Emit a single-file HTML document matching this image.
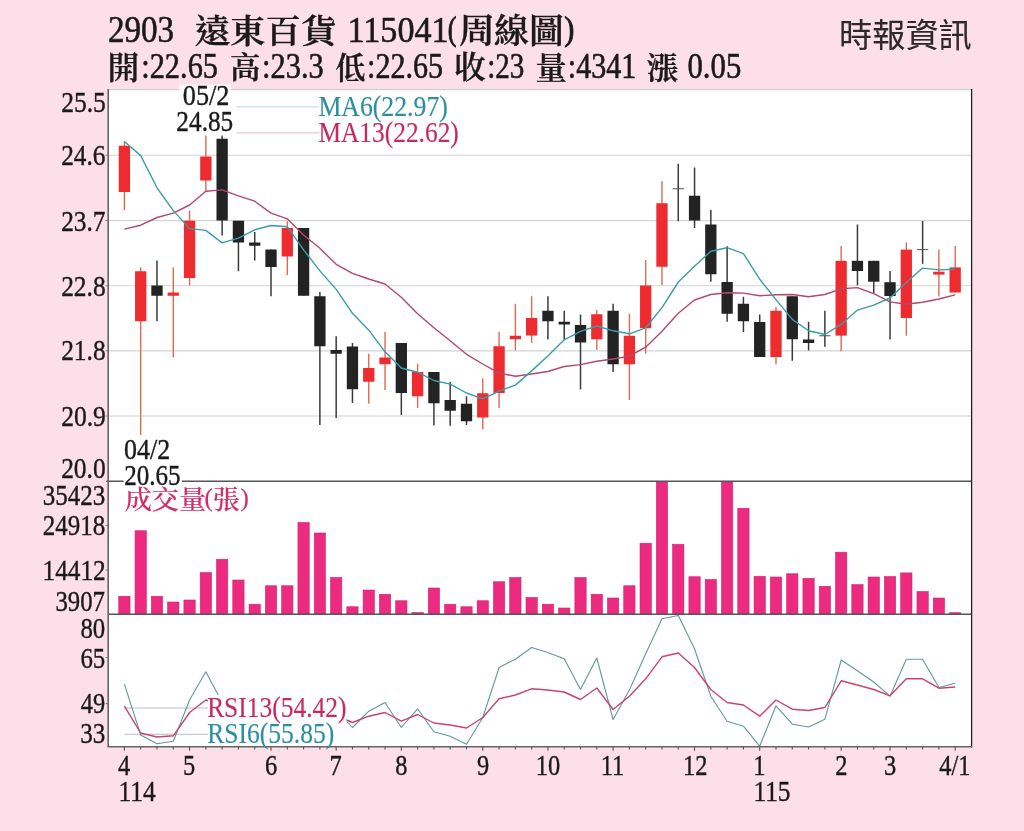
<!DOCTYPE html>
<html lang="zh-Hant"><head><meta charset="utf-8"><title>2903 遠東百貨 周線圖</title>
<style>html,body{margin:0;padding:0;background:#fddfe9;}svg{display:block}</style></head>
<body>
<svg width="1024" height="831" viewBox="0 0 1024 831">
<rect width="1024" height="831" fill="#fddfe9"/>
<rect x="108.2" y="89.6" width="863.4" height="657.2" fill="#fff"/>
<line x1="108.2" x2="971.6" y1="155.2" y2="155.2" stroke="#d2d5d4" stroke-width="1.15"/>
<line x1="108.2" x2="971.6" y1="220.6" y2="220.6" stroke="#d2d5d4" stroke-width="1.15"/>
<line x1="108.2" x2="971.6" y1="285.7" y2="285.7" stroke="#d2d5d4" stroke-width="1.15"/>
<line x1="108.2" x2="971.6" y1="350.8" y2="350.8" stroke="#d2d5d4" stroke-width="1.15"/>
<line x1="108.2" x2="971.6" y1="416.0" y2="416.0" stroke="#d2d5d4" stroke-width="1.15"/>
<line x1="108.2" x2="971.6" y1="89.6" y2="89.6" stroke="#cfcfcf" stroke-width="1.2"/>
<line x1="236.5" x2="319.5" y1="106.9" y2="106.9" stroke="#c9dfe3" stroke-width="1.2"/>
<line x1="236.5" x2="319.5" y1="132.8" y2="132.8" stroke="#e3c9d2" stroke-width="1.2"/>
<line x1="124.40" x2="124.40" y1="141.25" y2="210" stroke="#dd6a52" stroke-width="1.4"/>
<rect x="118.75" y="145.75" width="11.3" height="46.25" fill="#ee2b2e"/>
<line x1="140.69" x2="140.69" y1="267.5" y2="435" stroke="#dd6a52" stroke-width="1.4"/>
<rect x="135.04" y="271.25" width="11.3" height="50.00" fill="#ee2b2e"/>
<line x1="156.98" x2="156.98" y1="260.5" y2="321.25" stroke="#3a3a3a" stroke-width="1.5"/>
<rect x="151.33" y="285.5" width="11.3" height="10.25" fill="#232323"/>
<line x1="173.27" x2="173.27" y1="267.5" y2="357.5" stroke="#dd6a52" stroke-width="1.4"/>
<rect x="167.62" y="292.5" width="11.3" height="3.25" fill="#ee2b2e"/>
<line x1="189.56" x2="189.56" y1="210.5" y2="285.5" stroke="#dd6a52" stroke-width="1.4"/>
<rect x="183.91" y="220.75" width="11.3" height="57.25" fill="#ee2b2e"/>
<line x1="205.85" x2="205.85" y1="135.5" y2="191.25" stroke="#dd6a52" stroke-width="1.4"/>
<rect x="200.20" y="156.5" width="11.3" height="24.00" fill="#ee2b2e"/>
<line x1="222.14" x2="222.14" y1="135.5" y2="235.5" stroke="#3a3a3a" stroke-width="1.5"/>
<rect x="216.49" y="138.75" width="11.3" height="81.75" fill="#232323"/>
<line x1="238.43" x2="238.43" y1="220.75" y2="271.25" stroke="#3a3a3a" stroke-width="1.5"/>
<rect x="232.78" y="220.75" width="11.3" height="21.75" fill="#232323"/>
<line x1="254.72" x2="254.72" y1="232" y2="260.5" stroke="#3a3a3a" stroke-width="1.5"/>
<rect x="249.07" y="242.5" width="11.3" height="3.25" fill="#232323"/>
<line x1="271.01" x2="271.01" y1="249.5" y2="296.25" stroke="#3a3a3a" stroke-width="1.5"/>
<rect x="265.36" y="249.5" width="11.3" height="17.50" fill="#232323"/>
<line x1="287.30" x2="287.30" y1="221.25" y2="275" stroke="#dd6a52" stroke-width="1.4"/>
<rect x="281.65" y="228" width="11.3" height="28.50" fill="#ee2b2e"/>
<line x1="303.59" x2="303.59" y1="228" y2="295.75" stroke="#3a3a3a" stroke-width="1.5"/>
<rect x="297.94" y="228" width="11.3" height="67.75" fill="#232323"/>
<line x1="319.88" x2="319.88" y1="292" y2="425" stroke="#3a3a3a" stroke-width="1.5"/>
<rect x="314.23" y="296.25" width="11.3" height="50.00" fill="#232323"/>
<line x1="336.17" x2="336.17" y1="336.25" y2="418" stroke="#3a3a3a" stroke-width="1.5"/>
<rect x="330.52" y="350" width="11.3" height="3.75" fill="#232323"/>
<line x1="352.46" x2="352.46" y1="343" y2="403" stroke="#3a3a3a" stroke-width="1.5"/>
<rect x="346.81" y="346.5" width="11.3" height="42.75" fill="#232323"/>
<line x1="368.75" x2="368.75" y1="353.75" y2="403.75" stroke="#dd6a52" stroke-width="1.4"/>
<rect x="363.10" y="368" width="11.3" height="13.75" fill="#ee2b2e"/>
<line x1="385.04" x2="385.04" y1="331.75" y2="390" stroke="#dd6a52" stroke-width="1.4"/>
<rect x="379.39" y="357.5" width="11.3" height="6.75" fill="#ee2b2e"/>
<line x1="401.33" x2="401.33" y1="343" y2="415" stroke="#3a3a3a" stroke-width="1.5"/>
<rect x="395.68" y="343" width="11.3" height="50.00" fill="#232323"/>
<line x1="417.62" x2="417.62" y1="363.75" y2="408" stroke="#dd6a52" stroke-width="1.4"/>
<rect x="411.97" y="372" width="11.3" height="24.25" fill="#ee2b2e"/>
<line x1="433.91" x2="433.91" y1="372" y2="425.5" stroke="#3a3a3a" stroke-width="1.5"/>
<rect x="428.26" y="372" width="11.3" height="31.25" fill="#232323"/>
<line x1="450.20" x2="450.20" y1="382" y2="425.75" stroke="#3a3a3a" stroke-width="1.5"/>
<rect x="444.55" y="400" width="11.3" height="10.75" fill="#232323"/>
<line x1="466.49" x2="466.49" y1="396.25" y2="425" stroke="#3a3a3a" stroke-width="1.5"/>
<rect x="460.84" y="403.75" width="11.3" height="17.50" fill="#232323"/>
<line x1="482.78" x2="482.78" y1="378.25" y2="429.25" stroke="#dd6a52" stroke-width="1.4"/>
<rect x="477.13" y="393.25" width="11.3" height="24.25" fill="#ee2b2e"/>
<line x1="499.07" x2="499.07" y1="331.75" y2="408" stroke="#dd6a52" stroke-width="1.4"/>
<rect x="493.42" y="346.25" width="11.3" height="46.75" fill="#ee2b2e"/>
<line x1="515.36" x2="515.36" y1="303.75" y2="350.5" stroke="#dd6a52" stroke-width="1.4"/>
<rect x="509.71" y="335.75" width="11.3" height="3.50" fill="#ee2b2e"/>
<line x1="531.65" x2="531.65" y1="296.25" y2="343" stroke="#dd6a52" stroke-width="1.4"/>
<rect x="526.00" y="318" width="11.3" height="17.50" fill="#ee2b2e"/>
<line x1="547.94" x2="547.94" y1="296.25" y2="339.5" stroke="#3a3a3a" stroke-width="1.5"/>
<rect x="542.29" y="310.75" width="11.3" height="10.50" fill="#232323"/>
<line x1="564.23" x2="564.23" y1="310.75" y2="339.25" stroke="#3a3a3a" stroke-width="1.5"/>
<rect x="558.58" y="321.75" width="11.3" height="2.75" fill="#232323"/>
<line x1="580.52" x2="580.52" y1="314.5" y2="389.5" stroke="#3a3a3a" stroke-width="1.5"/>
<rect x="574.87" y="325" width="11.3" height="17.50" fill="#232323"/>
<line x1="596.81" x2="596.81" y1="310" y2="350" stroke="#dd6a52" stroke-width="1.4"/>
<rect x="591.16" y="314.25" width="11.3" height="25.00" fill="#ee2b2e"/>
<line x1="613.10" x2="613.10" y1="303.75" y2="372" stroke="#3a3a3a" stroke-width="1.5"/>
<rect x="607.45" y="310.75" width="11.3" height="53.50" fill="#232323"/>
<line x1="629.39" x2="629.39" y1="313.75" y2="400" stroke="#dd6a52" stroke-width="1.4"/>
<rect x="623.74" y="335.75" width="11.3" height="28.50" fill="#ee2b2e"/>
<line x1="645.68" x2="645.68" y1="260" y2="353.75" stroke="#dd6a52" stroke-width="1.4"/>
<rect x="640.03" y="285.5" width="11.3" height="42.75" fill="#ee2b2e"/>
<line x1="661.97" x2="661.97" y1="181.25" y2="285" stroke="#dd6a52" stroke-width="1.4"/>
<rect x="656.32" y="203.25" width="11.3" height="63.50" fill="#ee2b2e"/>
<line x1="678.26" x2="678.26" y1="163.75" y2="221.25" stroke="#3a3a3a" stroke-width="1.5"/>
<line x1="672.61" x2="683.91" y1="188.75" y2="188.75" stroke="#555" stroke-width="1"/>
<line x1="694.55" x2="694.55" y1="167.5" y2="228" stroke="#3a3a3a" stroke-width="1.5"/>
<rect x="688.90" y="195.75" width="11.3" height="24.75" fill="#232323"/>
<line x1="710.84" x2="710.84" y1="210" y2="281.75" stroke="#3a3a3a" stroke-width="1.5"/>
<rect x="705.19" y="224.5" width="11.3" height="49.75" fill="#232323"/>
<line x1="727.13" x2="727.13" y1="246.25" y2="321.75" stroke="#3a3a3a" stroke-width="1.5"/>
<rect x="721.48" y="282" width="11.3" height="31.75" fill="#232323"/>
<line x1="743.42" x2="743.42" y1="296.75" y2="332" stroke="#3a3a3a" stroke-width="1.5"/>
<rect x="737.77" y="303.75" width="11.3" height="17.50" fill="#232323"/>
<line x1="759.71" x2="759.71" y1="314.5" y2="357" stroke="#3a3a3a" stroke-width="1.5"/>
<rect x="754.06" y="322" width="11.3" height="35.00" fill="#232323"/>
<line x1="776.00" x2="776.00" y1="307" y2="364.5" stroke="#dd6a52" stroke-width="1.4"/>
<rect x="770.35" y="310.75" width="11.3" height="46.25" fill="#ee2b2e"/>
<line x1="792.29" x2="792.29" y1="296.25" y2="360.75" stroke="#3a3a3a" stroke-width="1.5"/>
<rect x="786.64" y="296.25" width="11.3" height="43.00" fill="#232323"/>
<line x1="808.58" x2="808.58" y1="321.75" y2="350.5" stroke="#3a3a3a" stroke-width="1.5"/>
<rect x="802.93" y="339.5" width="11.3" height="3.50" fill="#232323"/>
<line x1="824.87" x2="824.87" y1="310.75" y2="346.75" stroke="#3a3a3a" stroke-width="1.5"/>
<line x1="819.22" x2="830.52" y1="335.75" y2="335.75" stroke="#555" stroke-width="1"/>
<line x1="841.16" x2="841.16" y1="246" y2="351.3" stroke="#dd6a52" stroke-width="1.4"/>
<rect x="835.51" y="260.8" width="11.3" height="74.80" fill="#ee2b2e"/>
<line x1="857.45" x2="857.45" y1="224.5" y2="285.3" stroke="#3a3a3a" stroke-width="1.5"/>
<rect x="851.80" y="260.8" width="11.3" height="10.20" fill="#232323"/>
<line x1="873.74" x2="873.74" y1="260.8" y2="293" stroke="#3a3a3a" stroke-width="1.5"/>
<rect x="868.09" y="260.8" width="11.3" height="20.90" fill="#232323"/>
<line x1="890.03" x2="890.03" y1="271" y2="339.6" stroke="#3a3a3a" stroke-width="1.5"/>
<rect x="884.38" y="282.2" width="11.3" height="13.80" fill="#232323"/>
<line x1="906.32" x2="906.32" y1="242.4" y2="335.8" stroke="#dd6a52" stroke-width="1.4"/>
<rect x="900.67" y="249.6" width="11.3" height="68.40" fill="#ee2b2e"/>
<line x1="922.61" x2="922.61" y1="221" y2="263.9" stroke="#3a3a3a" stroke-width="1.5"/>
<line x1="916.96" x2="928.26" y1="249.6" y2="249.6" stroke="#555" stroke-width="1"/>
<line x1="938.90" x2="938.90" y1="249.6" y2="296.5" stroke="#dd6a52" stroke-width="1.4"/>
<rect x="933.25" y="271.7" width="11.3" height="2.90" fill="#ee2b2e"/>
<line x1="955.19" x2="955.19" y1="246" y2="292.5" stroke="#dd6a52" stroke-width="1.4"/>
<rect x="949.54" y="267.4" width="11.3" height="25.10" fill="#ee2b2e"/>
<polyline points="124.4,229.1 140.7,225.2 157.0,217.5 173.3,213.1 189.6,205.0 205.8,191.2 222.1,189.9 238.4,195.9 254.7,201.2 271.0,213.1 287.3,218.8 303.6,235.0 319.9,248.3 336.2,264.3 352.5,273.4 368.8,279.0 385.0,284.0 401.3,297.2 417.6,313.8 433.9,327.8 450.2,340.8 466.5,354.3 482.8,364.0 499.1,373.1 515.4,376.2 531.6,374.0 547.9,371.5 564.2,366.5 580.5,364.6 596.8,361.2 613.1,359.0 629.4,356.2 645.7,347.2 662.0,331.2 678.3,313.3 694.5,300.0 710.8,294.5 727.1,292.8 743.4,293.1 759.7,295.8 776.0,294.8 792.3,294.5 808.6,296.7 824.9,294.5 841.2,288.8 857.4,287.6 873.7,293.7 890.0,301.9 906.3,304.2 922.6,302.3 938.9,299.0 955.2,294.9" fill="none" stroke="#b5466e" stroke-width="1.4" stroke-linejoin="round"/>
<polyline points="124.4,141.5 140.7,155.6 157.0,187.8 173.3,210.6 189.6,228.6 205.8,230.4 222.1,242.9 238.4,238.1 254.7,229.8 271.0,225.5 287.3,226.7 303.6,249.9 319.9,270.9 336.2,289.4 352.5,313.3 368.8,330.2 385.0,351.8 401.3,368.0 417.6,372.2 433.9,380.5 450.2,384.1 466.5,393.0 482.8,398.9 499.1,391.1 515.4,385.1 531.6,370.9 547.9,356.0 564.2,339.8 580.5,331.4 596.8,326.0 613.1,330.8 629.4,333.8 645.7,327.8 662.0,307.6 678.3,282.0 694.5,266.3 710.8,251.3 727.1,247.7 743.4,253.6 759.7,279.2 776.0,299.6 792.3,319.4 808.6,330.8 824.9,334.5 841.2,324.4 857.4,310.1 873.7,305.2 890.0,298.0 906.3,282.5 922.6,268.1 938.9,269.9 955.2,269.3" fill="none" stroke="#3a9cab" stroke-width="1.4" stroke-linejoin="round"/>
<rect x="118.75" y="596.25" width="11.3" height="18.05" fill="#ec2a80" stroke="#cf2672" stroke-width="0.6"/>
<rect x="135.04" y="530.75" width="11.3" height="83.55" fill="#ec2a80" stroke="#cf2672" stroke-width="0.6"/>
<rect x="151.33" y="596.25" width="11.3" height="18.05" fill="#ec2a80" stroke="#cf2672" stroke-width="0.6"/>
<rect x="167.62" y="602" width="11.3" height="12.30" fill="#ec2a80" stroke="#cf2672" stroke-width="0.6"/>
<rect x="183.91" y="600" width="11.3" height="14.30" fill="#ec2a80" stroke="#cf2672" stroke-width="0.6"/>
<rect x="200.20" y="572.5" width="11.3" height="41.80" fill="#ec2a80" stroke="#cf2672" stroke-width="0.6"/>
<rect x="216.49" y="559.25" width="11.3" height="55.05" fill="#ec2a80" stroke="#cf2672" stroke-width="0.6"/>
<rect x="232.78" y="580" width="11.3" height="34.30" fill="#ec2a80" stroke="#cf2672" stroke-width="0.6"/>
<rect x="249.07" y="604.25" width="11.3" height="10.05" fill="#ec2a80" stroke="#cf2672" stroke-width="0.6"/>
<rect x="265.36" y="585.75" width="11.3" height="28.55" fill="#ec2a80" stroke="#cf2672" stroke-width="0.6"/>
<rect x="281.65" y="585.75" width="11.3" height="28.55" fill="#ec2a80" stroke="#cf2672" stroke-width="0.6"/>
<rect x="297.94" y="522.5" width="11.3" height="91.80" fill="#ec2a80" stroke="#cf2672" stroke-width="0.6"/>
<rect x="314.23" y="533" width="11.3" height="81.30" fill="#ec2a80" stroke="#cf2672" stroke-width="0.6"/>
<rect x="330.52" y="577.5" width="11.3" height="36.80" fill="#ec2a80" stroke="#cf2672" stroke-width="0.6"/>
<rect x="346.81" y="606.75" width="11.3" height="7.55" fill="#ec2a80" stroke="#cf2672" stroke-width="0.6"/>
<rect x="363.10" y="590" width="11.3" height="24.30" fill="#ec2a80" stroke="#cf2672" stroke-width="0.6"/>
<rect x="379.39" y="594.25" width="11.3" height="20.05" fill="#ec2a80" stroke="#cf2672" stroke-width="0.6"/>
<rect x="395.68" y="600.75" width="11.3" height="13.55" fill="#ec2a80" stroke="#cf2672" stroke-width="0.6"/>
<rect x="411.97" y="612.5" width="11.3" height="1.80" fill="#ec2a80" stroke="#cf2672" stroke-width="0.6"/>
<rect x="428.26" y="588" width="11.3" height="26.30" fill="#ec2a80" stroke="#cf2672" stroke-width="0.6"/>
<rect x="444.55" y="604.25" width="11.3" height="10.05" fill="#ec2a80" stroke="#cf2672" stroke-width="0.6"/>
<rect x="460.84" y="606.75" width="11.3" height="7.55" fill="#ec2a80" stroke="#cf2672" stroke-width="0.6"/>
<rect x="477.13" y="600.75" width="11.3" height="13.55" fill="#ec2a80" stroke="#cf2672" stroke-width="0.6"/>
<rect x="493.42" y="581.75" width="11.3" height="32.55" fill="#ec2a80" stroke="#cf2672" stroke-width="0.6"/>
<rect x="509.71" y="577.5" width="11.3" height="36.80" fill="#ec2a80" stroke="#cf2672" stroke-width="0.6"/>
<rect x="526.00" y="597.5" width="11.3" height="16.80" fill="#ec2a80" stroke="#cf2672" stroke-width="0.6"/>
<rect x="542.29" y="604.25" width="11.3" height="10.05" fill="#ec2a80" stroke="#cf2672" stroke-width="0.6"/>
<rect x="558.58" y="608" width="11.3" height="6.30" fill="#ec2a80" stroke="#cf2672" stroke-width="0.6"/>
<rect x="574.87" y="577.5" width="11.3" height="36.80" fill="#ec2a80" stroke="#cf2672" stroke-width="0.6"/>
<rect x="591.16" y="594.25" width="11.3" height="20.05" fill="#ec2a80" stroke="#cf2672" stroke-width="0.6"/>
<rect x="607.45" y="598" width="11.3" height="16.30" fill="#ec2a80" stroke="#cf2672" stroke-width="0.6"/>
<rect x="623.74" y="585.75" width="11.3" height="28.55" fill="#ec2a80" stroke="#cf2672" stroke-width="0.6"/>
<rect x="640.03" y="543.25" width="11.3" height="71.05" fill="#ec2a80" stroke="#cf2672" stroke-width="0.6"/>
<rect x="656.32" y="481.25" width="11.3" height="133.05" fill="#ec2a80" stroke="#cf2672" stroke-width="0.6"/>
<rect x="672.61" y="544.25" width="11.3" height="70.05" fill="#ec2a80" stroke="#cf2672" stroke-width="0.6"/>
<rect x="688.90" y="576.75" width="11.3" height="37.55" fill="#ec2a80" stroke="#cf2672" stroke-width="0.6"/>
<rect x="705.19" y="579.5" width="11.3" height="34.80" fill="#ec2a80" stroke="#cf2672" stroke-width="0.6"/>
<rect x="721.48" y="481.25" width="11.3" height="133.05" fill="#ec2a80" stroke="#cf2672" stroke-width="0.6"/>
<rect x="737.77" y="508.25" width="11.3" height="106.05" fill="#ec2a80" stroke="#cf2672" stroke-width="0.6"/>
<rect x="754.06" y="576.25" width="11.3" height="38.05" fill="#ec2a80" stroke="#cf2672" stroke-width="0.6"/>
<rect x="770.35" y="577" width="11.3" height="37.30" fill="#ec2a80" stroke="#cf2672" stroke-width="0.6"/>
<rect x="786.64" y="573.75" width="11.3" height="40.55" fill="#ec2a80" stroke="#cf2672" stroke-width="0.6"/>
<rect x="802.93" y="578.25" width="11.3" height="36.05" fill="#ec2a80" stroke="#cf2672" stroke-width="0.6"/>
<rect x="819.22" y="586.25" width="11.3" height="28.05" fill="#ec2a80" stroke="#cf2672" stroke-width="0.6"/>
<rect x="835.51" y="552.2" width="11.3" height="62.10" fill="#ec2a80" stroke="#cf2672" stroke-width="0.6"/>
<rect x="851.80" y="584.6" width="11.3" height="29.70" fill="#ec2a80" stroke="#cf2672" stroke-width="0.6"/>
<rect x="868.09" y="577" width="11.3" height="37.30" fill="#ec2a80" stroke="#cf2672" stroke-width="0.6"/>
<rect x="884.38" y="576.5" width="11.3" height="37.80" fill="#ec2a80" stroke="#cf2672" stroke-width="0.6"/>
<rect x="900.67" y="572.9" width="11.3" height="41.40" fill="#ec2a80" stroke="#cf2672" stroke-width="0.6"/>
<rect x="916.96" y="591.5" width="11.3" height="22.80" fill="#ec2a80" stroke="#cf2672" stroke-width="0.6"/>
<rect x="933.25" y="598" width="11.3" height="16.30" fill="#ec2a80" stroke="#cf2672" stroke-width="0.6"/>
<rect x="949.54" y="612.7" width="11.3" height="1.60" fill="#ec2a80" stroke="#cf2672" stroke-width="0.6"/>
<line x1="106.2" x2="971.6" y1="481.2" y2="481.2" stroke="#555" stroke-width="1.4"/>
<line x1="108.2" x2="971.6" y1="614.3" y2="614.3" stroke="#555" stroke-width="1.4"/>
<line x1="124.3" x2="208" y1="708" y2="708" stroke="#bdbdbd" stroke-width="1.1"/>
<line x1="124.3" x2="208" y1="734.3" y2="734.3" stroke="#bdbdbd" stroke-width="1.1"/>
<polyline points="124.4,684.2 140.7,735.0 157.0,743.8 173.3,741.2 189.6,700.0 205.8,671.8 222.1,702.2 238.4,710.0 254.7,712.0 271.0,712.0 287.3,712.0 303.6,712.0 319.9,712.0 336.2,709.8 352.5,727.5 368.8,711.2 385.0,702.5 401.3,727.5 417.6,708.8 433.9,731.8 450.2,736.2 466.5,744.2 482.8,717.5 499.1,667.5 515.4,659.2 531.6,647.5 547.9,652.5 564.2,658.8 580.5,689.5 596.8,658.0 613.1,719.5 629.4,690.0 645.7,653.8 662.0,618.8 678.3,615.5 694.5,648.8 710.8,696.2 727.1,721.2 743.4,726.2 759.7,746.2 776.0,705.8 792.3,724.2 808.6,727.0 824.9,719.2 841.2,660.0 857.4,670.8 873.7,682.0 890.0,696.2 906.3,659.2 922.6,659.2 938.9,687.5 955.2,683.2" fill="none" stroke="#5f9a9a" stroke-width="1.1" stroke-linejoin="round"/>
<polyline points="124.4,706.2 140.7,733.0 157.0,737.0 173.3,735.8 189.6,712.5 205.8,700.0 222.1,705.0 238.4,710.0 254.7,712.0 271.0,712.0 287.3,712.0 303.6,712.0 319.9,714.0 336.2,715.4 352.5,722.5 368.8,716.2 385.0,712.5 401.3,721.2 417.6,714.5 433.9,723.0 450.2,725.0 466.5,728.0 482.8,717.5 499.1,698.8 515.4,695.0 531.6,688.8 547.9,690.0 564.2,692.0 580.5,699.5 596.8,688.0 613.1,709.5 629.4,696.2 645.7,678.8 662.0,656.8 678.3,653.0 694.5,667.5 710.8,689.5 727.1,702.5 743.4,705.0 759.7,716.2 776.0,700.0 792.3,709.2 808.6,710.5 824.9,707.5 841.2,680.8 857.4,685.0 873.7,689.5 890.0,695.8 906.3,678.8 922.6,678.8 938.9,688.2 955.2,687.0" fill="none" stroke="#c8446e" stroke-width="1.4" stroke-linejoin="round"/>
<rect x="123.6" y="463" width="58.2" height="24" fill="#fff"/>
<rect x="179" y="84.6" width="52" height="8" fill="#fff" opacity="0.85"/>
<rect x="208" y="695" width="138.6" height="51" fill="#fff"/>
<line x1="108.2" x2="108.2" y1="89.0" y2="746.8" stroke="#666" stroke-width="1.6"/>
<line x1="971.6" x2="971.6" y1="89.0" y2="747.5" stroke="#222" stroke-width="1.3"/>
<line x1="107.4" x2="972.2" y1="746.8" y2="746.8" stroke="#666" stroke-width="1.5"/>
<line x1="124.40" x2="124.40" y1="746.8" y2="750.8" stroke="#555" stroke-width="1.1"/>
<line x1="140.69" x2="140.69" y1="746.8" y2="749.4" stroke="#555" stroke-width="1.1"/>
<line x1="156.98" x2="156.98" y1="746.8" y2="749.4" stroke="#555" stroke-width="1.1"/>
<line x1="173.27" x2="173.27" y1="746.8" y2="749.4" stroke="#555" stroke-width="1.1"/>
<line x1="189.56" x2="189.56" y1="746.8" y2="750.8" stroke="#555" stroke-width="1.1"/>
<line x1="205.85" x2="205.85" y1="746.8" y2="749.4" stroke="#555" stroke-width="1.1"/>
<line x1="222.14" x2="222.14" y1="746.8" y2="749.4" stroke="#555" stroke-width="1.1"/>
<line x1="238.43" x2="238.43" y1="746.8" y2="749.4" stroke="#555" stroke-width="1.1"/>
<line x1="254.72" x2="254.72" y1="746.8" y2="749.4" stroke="#555" stroke-width="1.1"/>
<line x1="271.01" x2="271.01" y1="746.8" y2="750.8" stroke="#555" stroke-width="1.1"/>
<line x1="287.30" x2="287.30" y1="746.8" y2="749.4" stroke="#555" stroke-width="1.1"/>
<line x1="303.59" x2="303.59" y1="746.8" y2="749.4" stroke="#555" stroke-width="1.1"/>
<line x1="319.88" x2="319.88" y1="746.8" y2="749.4" stroke="#555" stroke-width="1.1"/>
<line x1="336.17" x2="336.17" y1="746.8" y2="750.8" stroke="#555" stroke-width="1.1"/>
<line x1="352.46" x2="352.46" y1="746.8" y2="749.4" stroke="#555" stroke-width="1.1"/>
<line x1="368.75" x2="368.75" y1="746.8" y2="749.4" stroke="#555" stroke-width="1.1"/>
<line x1="385.04" x2="385.04" y1="746.8" y2="749.4" stroke="#555" stroke-width="1.1"/>
<line x1="401.33" x2="401.33" y1="746.8" y2="750.8" stroke="#555" stroke-width="1.1"/>
<line x1="417.62" x2="417.62" y1="746.8" y2="749.4" stroke="#555" stroke-width="1.1"/>
<line x1="433.91" x2="433.91" y1="746.8" y2="749.4" stroke="#555" stroke-width="1.1"/>
<line x1="450.20" x2="450.20" y1="746.8" y2="749.4" stroke="#555" stroke-width="1.1"/>
<line x1="466.49" x2="466.49" y1="746.8" y2="749.4" stroke="#555" stroke-width="1.1"/>
<line x1="482.78" x2="482.78" y1="746.8" y2="750.8" stroke="#555" stroke-width="1.1"/>
<line x1="499.07" x2="499.07" y1="746.8" y2="749.4" stroke="#555" stroke-width="1.1"/>
<line x1="515.36" x2="515.36" y1="746.8" y2="749.4" stroke="#555" stroke-width="1.1"/>
<line x1="531.65" x2="531.65" y1="746.8" y2="749.4" stroke="#555" stroke-width="1.1"/>
<line x1="547.94" x2="547.94" y1="746.8" y2="750.8" stroke="#555" stroke-width="1.1"/>
<line x1="564.23" x2="564.23" y1="746.8" y2="749.4" stroke="#555" stroke-width="1.1"/>
<line x1="580.52" x2="580.52" y1="746.8" y2="749.4" stroke="#555" stroke-width="1.1"/>
<line x1="596.81" x2="596.81" y1="746.8" y2="749.4" stroke="#555" stroke-width="1.1"/>
<line x1="613.10" x2="613.10" y1="746.8" y2="750.8" stroke="#555" stroke-width="1.1"/>
<line x1="629.39" x2="629.39" y1="746.8" y2="749.4" stroke="#555" stroke-width="1.1"/>
<line x1="645.68" x2="645.68" y1="746.8" y2="749.4" stroke="#555" stroke-width="1.1"/>
<line x1="661.97" x2="661.97" y1="746.8" y2="749.4" stroke="#555" stroke-width="1.1"/>
<line x1="678.26" x2="678.26" y1="746.8" y2="749.4" stroke="#555" stroke-width="1.1"/>
<line x1="694.55" x2="694.55" y1="746.8" y2="750.8" stroke="#555" stroke-width="1.1"/>
<line x1="710.84" x2="710.84" y1="746.8" y2="749.4" stroke="#555" stroke-width="1.1"/>
<line x1="727.13" x2="727.13" y1="746.8" y2="749.4" stroke="#555" stroke-width="1.1"/>
<line x1="743.42" x2="743.42" y1="746.8" y2="749.4" stroke="#555" stroke-width="1.1"/>
<line x1="759.71" x2="759.71" y1="746.8" y2="750.8" stroke="#555" stroke-width="1.1"/>
<line x1="776.00" x2="776.00" y1="746.8" y2="749.4" stroke="#555" stroke-width="1.1"/>
<line x1="792.29" x2="792.29" y1="746.8" y2="749.4" stroke="#555" stroke-width="1.1"/>
<line x1="808.58" x2="808.58" y1="746.8" y2="749.4" stroke="#555" stroke-width="1.1"/>
<line x1="824.87" x2="824.87" y1="746.8" y2="749.4" stroke="#555" stroke-width="1.1"/>
<line x1="841.16" x2="841.16" y1="746.8" y2="750.8" stroke="#555" stroke-width="1.1"/>
<line x1="857.45" x2="857.45" y1="746.8" y2="749.4" stroke="#555" stroke-width="1.1"/>
<line x1="873.74" x2="873.74" y1="746.8" y2="749.4" stroke="#555" stroke-width="1.1"/>
<line x1="890.03" x2="890.03" y1="746.8" y2="750.8" stroke="#555" stroke-width="1.1"/>
<line x1="906.32" x2="906.32" y1="746.8" y2="749.4" stroke="#555" stroke-width="1.1"/>
<line x1="922.61" x2="922.61" y1="746.8" y2="749.4" stroke="#555" stroke-width="1.1"/>
<line x1="938.90" x2="938.90" y1="746.8" y2="749.4" stroke="#555" stroke-width="1.1"/>
<line x1="955.19" x2="955.19" y1="746.8" y2="750.8" stroke="#555" stroke-width="1.1"/>
<line x1="105.7" x2="108.2" y1="155.2" y2="155.2" stroke="#777" stroke-width="1"/>
<line x1="105.7" x2="108.2" y1="220.6" y2="220.6" stroke="#777" stroke-width="1"/>
<line x1="105.7" x2="108.2" y1="285.7" y2="285.7" stroke="#777" stroke-width="1"/>
<line x1="105.7" x2="108.2" y1="350.8" y2="350.8" stroke="#777" stroke-width="1"/>
<line x1="105.7" x2="108.2" y1="416.0" y2="416.0" stroke="#777" stroke-width="1"/>
<line x1="105.7" x2="108.2" y1="525.4" y2="525.4" stroke="#777" stroke-width="1"/>
<line x1="105.7" x2="108.2" y1="570.1" y2="570.1" stroke="#777" stroke-width="1"/>
<line x1="105.7" x2="108.2" y1="657.5" y2="657.5" stroke="#777" stroke-width="1"/>
<line x1="105.7" x2="108.2" y1="703.7" y2="703.7" stroke="#777" stroke-width="1"/>
<text x="107.88" y="42.00" font-size="36.87" fill="#1a1a1a" font-family='"Liberation Serif","Noto Serif CJK TC","Noto Serif CJK SC",serif' font-weight="400" stroke="#1a1a1a" stroke-width="0.6" textLength="66.32" lengthAdjust="spacingAndGlyphs">2903</text>
<text x="194.70" y="42.60" font-size="33.22" fill="#1a1a1a" font-family='"Liberation Serif","Noto Serif CJK TC","Noto Serif CJK SC",serif' font-weight="600" stroke="#1a1a1a" stroke-width="0.35" textLength="141.73" lengthAdjust="spacingAndGlyphs">遠東百貨</text>
<text x="347.51" y="42.00" font-size="36.73" fill="#1a1a1a" font-family='"Liberation Serif","Noto Serif CJK TC","Noto Serif CJK SC",serif' font-weight="400" stroke="#1a1a1a" stroke-width="0.6" textLength="101.06" lengthAdjust="spacingAndGlyphs">115041</text>
<text x="447.82" y="39.55" font-size="33.59" fill="#1a1a1a" font-family='"Liberation Serif","Noto Serif CJK TC","Noto Serif CJK SC",serif' font-weight="400" stroke="#1a1a1a" stroke-width="0.9" textLength="8.71" lengthAdjust="spacingAndGlyphs">(</text>
<text x="459.17" y="43.30" font-size="33.81" fill="#1a1a1a" font-family='"Liberation Serif","Noto Serif CJK TC","Noto Serif CJK SC",serif' font-weight="600" stroke="#1a1a1a" stroke-width="0.35" textLength="104.77" lengthAdjust="spacingAndGlyphs">周線圖</text>
<text x="564.32" y="39.55" font-size="33.59" fill="#1a1a1a" font-family='"Liberation Serif","Noto Serif CJK TC","Noto Serif CJK SC",serif' font-weight="400" stroke="#1a1a1a" stroke-width="0.9" textLength="10.13" lengthAdjust="spacingAndGlyphs">)</text>
<text x="107.50" y="78.85" font-size="31.78" fill="#1a1a1a" font-family='"Liberation Serif","Noto Serif CJK TC","Noto Serif CJK SC",serif' font-weight="600" stroke="#1a1a1a" stroke-width="0.35" textLength="31.78" lengthAdjust="spacingAndGlyphs">開</text>
<text x="141.25" y="78.15" font-size="35.35" fill="#1a1a1a" font-family='"Liberation Serif","Noto Serif CJK TC","Noto Serif CJK SC",serif' font-weight="400" stroke="#1a1a1a" stroke-width="0.6" textLength="76.76" lengthAdjust="spacingAndGlyphs">:22.65</text>
<text x="230.13" y="78.05" font-size="29.99" fill="#1a1a1a" font-family='"Liberation Serif","Noto Serif CJK TC","Noto Serif CJK SC",serif' font-weight="600" stroke="#1a1a1a" stroke-width="0.35" textLength="30.35" lengthAdjust="spacingAndGlyphs">高</text>
<text x="262.05" y="78.15" font-size="35.35" fill="#1a1a1a" font-family='"Liberation Serif","Noto Serif CJK TC","Noto Serif CJK SC",serif' font-weight="400" stroke="#1a1a1a" stroke-width="0.6" textLength="61.74" lengthAdjust="spacingAndGlyphs">:23.3</text>
<text x="335.51" y="78.65" font-size="30.51" fill="#1a1a1a" font-family='"Liberation Serif","Noto Serif CJK TC","Noto Serif CJK SC",serif' font-weight="600" stroke="#1a1a1a" stroke-width="0.35" textLength="30.18" lengthAdjust="spacingAndGlyphs">低</text>
<text x="367.07" y="78.15" font-size="35.35" fill="#1a1a1a" font-family='"Liberation Serif","Noto Serif CJK TC","Noto Serif CJK SC",serif' font-weight="400" stroke="#1a1a1a" stroke-width="0.6" textLength="76.03" lengthAdjust="spacingAndGlyphs">:22.65</text>
<text x="454.20" y="78.25" font-size="30.20" fill="#1a1a1a" font-family='"Liberation Serif","Noto Serif CJK TC","Noto Serif CJK SC",serif' font-weight="600" stroke="#1a1a1a" stroke-width="0.35" textLength="31.47" lengthAdjust="spacingAndGlyphs">收</text>
<text x="487.14" y="78.15" font-size="35.35" fill="#1a1a1a" font-family='"Liberation Serif","Noto Serif CJK TC","Noto Serif CJK SC",serif' font-weight="400" stroke="#1a1a1a" stroke-width="0.6" textLength="37.21" lengthAdjust="spacingAndGlyphs">:23</text>
<text x="535.42" y="78.50" font-size="30.56" fill="#1a1a1a" font-family='"Liberation Serif","Noto Serif CJK TC","Noto Serif CJK SC",serif' font-weight="600" stroke="#1a1a1a" stroke-width="0.35" textLength="31.27" lengthAdjust="spacingAndGlyphs">量</text>
<text x="567.84" y="77.85" font-size="34.91" fill="#1a1a1a" font-family='"Liberation Serif","Noto Serif CJK TC","Noto Serif CJK SC",serif' font-weight="400" stroke="#1a1a1a" stroke-width="0.6" textLength="68.55" lengthAdjust="spacingAndGlyphs">:4341</text>
<text x="646.73" y="78.55" font-size="30.72" fill="#1a1a1a" font-family='"Liberation Serif","Noto Serif CJK TC","Noto Serif CJK SC",serif' font-weight="600" stroke="#1a1a1a" stroke-width="0.35" textLength="31.63" lengthAdjust="spacingAndGlyphs">漲</text>
<text x="687.53" y="78.15" font-size="35.35" fill="#1a1a1a" font-family='"Liberation Serif","Noto Serif CJK TC","Noto Serif CJK SC",serif' font-weight="400" stroke="#1a1a1a" stroke-width="0.6" textLength="53.71" lengthAdjust="spacingAndGlyphs">0.05</text>
<text x="839.10" y="47.05" font-size="33.08" fill="#2a2a2a" font-family='"Liberation Sans","Noto Sans CJK TC","Noto Sans CJK SC",sans-serif' font-weight="400" stroke="#2a2a2a" stroke-width="0.12" textLength="132.59" lengthAdjust="spacingAndGlyphs">時報資訊</text>
<text x="61.14" y="112.20" font-size="30.20" fill="#1a1a1a" font-family='"Liberation Serif","Noto Serif CJK TC","Noto Serif CJK SC",serif' font-weight="400" stroke="#1a1a1a" stroke-width="0.4" textLength="44.77" lengthAdjust="spacingAndGlyphs">25.5</text>
<text x="61.15" y="165.20" font-size="30.20" fill="#1a1a1a" font-family='"Liberation Serif","Noto Serif CJK TC","Noto Serif CJK SC",serif' font-weight="400" stroke="#1a1a1a" stroke-width="0.4" textLength="44.33" lengthAdjust="spacingAndGlyphs">24.6</text>
<text x="61.15" y="230.60" font-size="30.20" fill="#1a1a1a" font-family='"Liberation Serif","Noto Serif CJK TC","Noto Serif CJK SC",serif' font-weight="400" stroke="#1a1a1a" stroke-width="0.4" textLength="44.33" lengthAdjust="spacingAndGlyphs">23.7</text>
<text x="61.15" y="295.50" font-size="30.20" fill="#1a1a1a" font-family='"Liberation Serif","Noto Serif CJK TC","Noto Serif CJK SC",serif' font-weight="400" stroke="#1a1a1a" stroke-width="0.4" textLength="44.55" lengthAdjust="spacingAndGlyphs">22.8</text>
<text x="61.15" y="360.20" font-size="30.20" fill="#1a1a1a" font-family='"Liberation Serif","Noto Serif CJK TC","Noto Serif CJK SC",serif' font-weight="400" stroke="#1a1a1a" stroke-width="0.4" textLength="44.55" lengthAdjust="spacingAndGlyphs">21.8</text>
<text x="61.14" y="425.50" font-size="30.20" fill="#1a1a1a" font-family='"Liberation Serif","Noto Serif CJK TC","Noto Serif CJK SC",serif' font-weight="400" stroke="#1a1a1a" stroke-width="0.4" textLength="44.77" lengthAdjust="spacingAndGlyphs">20.9</text>
<text x="61.15" y="477.60" font-size="30.20" fill="#1a1a1a" font-family='"Liberation Serif","Noto Serif CJK TC","Noto Serif CJK SC",serif' font-weight="400" stroke="#1a1a1a" stroke-width="0.4" textLength="44.55" lengthAdjust="spacingAndGlyphs">20.0</text>
<text x="42.76" y="504.50" font-size="30.20" fill="#1a1a1a" font-family='"Liberation Serif","Noto Serif CJK TC","Noto Serif CJK SC",serif' font-weight="400" stroke="#1a1a1a" stroke-width="0.4" textLength="62.54" lengthAdjust="spacingAndGlyphs">35423</text>
<text x="42.76" y="535.20" font-size="30.20" fill="#1a1a1a" font-family='"Liberation Serif","Noto Serif CJK TC","Noto Serif CJK SC",serif' font-weight="400" stroke="#1a1a1a" stroke-width="0.4" textLength="62.54" lengthAdjust="spacingAndGlyphs">24918</text>
<text x="42.51" y="579.80" font-size="30.20" fill="#1a1a1a" font-family='"Liberation Serif","Noto Serif CJK TC","Noto Serif CJK SC",serif' font-weight="400" stroke="#1a1a1a" stroke-width="0.4" textLength="63.22" lengthAdjust="spacingAndGlyphs">14412</text>
<text x="55.47" y="611.00" font-size="30.20" fill="#1a1a1a" font-family='"Liberation Serif","Noto Serif CJK TC","Noto Serif CJK SC",serif' font-weight="400" stroke="#1a1a1a" stroke-width="0.4" textLength="49.54" lengthAdjust="spacingAndGlyphs">3907</text>
<text x="80.43" y="637.50" font-size="30.20" fill="#1a1a1a" font-family='"Liberation Serif","Noto Serif CJK TC","Noto Serif CJK SC",serif' font-weight="400" stroke="#1a1a1a" stroke-width="0.4" textLength="24.84" lengthAdjust="spacingAndGlyphs">80</text>
<text x="80.43" y="667.50" font-size="30.20" fill="#1a1a1a" font-family='"Liberation Serif","Noto Serif CJK TC","Noto Serif CJK SC",serif' font-weight="400" stroke="#1a1a1a" stroke-width="0.4" textLength="24.84" lengthAdjust="spacingAndGlyphs">65</text>
<text x="80.85" y="713.30" font-size="30.20" fill="#1a1a1a" font-family='"Liberation Serif","Noto Serif CJK TC","Noto Serif CJK SC",serif' font-weight="400" stroke="#1a1a1a" stroke-width="0.4" textLength="24.41" lengthAdjust="spacingAndGlyphs">49</text>
<text x="80.21" y="743.30" font-size="30.20" fill="#1a1a1a" font-family='"Liberation Serif","Noto Serif CJK TC","Noto Serif CJK SC",serif' font-weight="400" stroke="#1a1a1a" stroke-width="0.4" textLength="25.07" lengthAdjust="spacingAndGlyphs">33</text>
<text x="118.02" y="775.00" font-size="30.20" fill="#1a1a1a" font-family='"Liberation Serif","Noto Serif CJK TC","Noto Serif CJK SC",serif' font-weight="400" stroke="#1a1a1a" stroke-width="0.4" textLength="12.23" lengthAdjust="spacingAndGlyphs">4</text>
<text x="183.12" y="775.00" font-size="30.20" fill="#1a1a1a" font-family='"Liberation Serif","Noto Serif CJK TC","Noto Serif CJK SC",serif' font-weight="400" stroke="#1a1a1a" stroke-width="0.4" textLength="12.23" lengthAdjust="spacingAndGlyphs">5</text>
<text x="264.92" y="775.00" font-size="30.20" fill="#1a1a1a" font-family='"Liberation Serif","Noto Serif CJK TC","Noto Serif CJK SC",serif' font-weight="400" stroke="#1a1a1a" stroke-width="0.4" textLength="12.23" lengthAdjust="spacingAndGlyphs">6</text>
<text x="329.52" y="775.00" font-size="30.20" fill="#1a1a1a" font-family='"Liberation Serif","Noto Serif CJK TC","Noto Serif CJK SC",serif' font-weight="400" stroke="#1a1a1a" stroke-width="0.4" textLength="12.23" lengthAdjust="spacingAndGlyphs">7</text>
<text x="395.32" y="775.00" font-size="30.20" fill="#1a1a1a" font-family='"Liberation Serif","Noto Serif CJK TC","Noto Serif CJK SC",serif' font-weight="400" stroke="#1a1a1a" stroke-width="0.4" textLength="12.23" lengthAdjust="spacingAndGlyphs">8</text>
<text x="476.93" y="775.00" font-size="30.20" fill="#1a1a1a" font-family='"Liberation Serif","Noto Serif CJK TC","Noto Serif CJK SC",serif' font-weight="400" stroke="#1a1a1a" stroke-width="0.4" textLength="12.23" lengthAdjust="spacingAndGlyphs">9</text>
<text x="535.74" y="775.00" font-size="30.20" fill="#1a1a1a" font-family='"Liberation Serif","Noto Serif CJK TC","Noto Serif CJK SC",serif' font-weight="400" stroke="#1a1a1a" stroke-width="0.4" textLength="24.45" lengthAdjust="spacingAndGlyphs">10</text>
<text x="600.65" y="775.00" font-size="30.20" fill="#1a1a1a" font-family='"Liberation Serif","Noto Serif CJK TC","Noto Serif CJK SC",serif' font-weight="400" stroke="#1a1a1a" stroke-width="0.4" textLength="23.55" lengthAdjust="spacingAndGlyphs">11</text>
<text x="682.94" y="775.00" font-size="30.20" fill="#1a1a1a" font-family='"Liberation Serif","Noto Serif CJK TC","Noto Serif CJK SC",serif' font-weight="400" stroke="#1a1a1a" stroke-width="0.4" textLength="24.45" lengthAdjust="spacingAndGlyphs">12</text>
<text x="753.32" y="775.00" font-size="30.20" fill="#1a1a1a" font-family='"Liberation Serif","Noto Serif CJK TC","Noto Serif CJK SC",serif' font-weight="400" stroke="#1a1a1a" stroke-width="0.4" textLength="12.23" lengthAdjust="spacingAndGlyphs">1</text>
<text x="835.32" y="775.00" font-size="30.20" fill="#1a1a1a" font-family='"Liberation Serif","Noto Serif CJK TC","Noto Serif CJK SC",serif' font-weight="400" stroke="#1a1a1a" stroke-width="0.4" textLength="12.23" lengthAdjust="spacingAndGlyphs">2</text>
<text x="883.92" y="775.00" font-size="30.20" fill="#1a1a1a" font-family='"Liberation Serif","Noto Serif CJK TC","Noto Serif CJK SC",serif' font-weight="400" stroke="#1a1a1a" stroke-width="0.4" textLength="12.23" lengthAdjust="spacingAndGlyphs">3</text>
<text x="939.21" y="775.00" font-size="30.20" fill="#1a1a1a" font-family='"Liberation Serif","Noto Serif CJK TC","Noto Serif CJK SC",serif' font-weight="400" stroke="#1a1a1a" stroke-width="0.4" textLength="31.25" lengthAdjust="spacingAndGlyphs">4/1</text>
<text x="118.49" y="801.30" font-size="30.20" fill="#1a1a1a" font-family='"Liberation Serif","Noto Serif CJK TC","Noto Serif CJK SC",serif' font-weight="400" stroke="#1a1a1a" stroke-width="0.4" textLength="37.25" lengthAdjust="spacingAndGlyphs">114</text>
<text x="753.40" y="801.30" font-size="30.20" fill="#1a1a1a" font-family='"Liberation Serif","Noto Serif CJK TC","Noto Serif CJK SC",serif' font-weight="400" stroke="#1a1a1a" stroke-width="0.4" textLength="37.13" lengthAdjust="spacingAndGlyphs">115</text>
<text x="182.83" y="104.80" font-size="30.20" fill="#1a1a1a" font-family='"Liberation Serif","Noto Serif CJK TC","Noto Serif CJK SC",serif' font-weight="400" stroke="#1a1a1a" stroke-width="0.4" textLength="46.60" lengthAdjust="spacingAndGlyphs">05/2</text>
<text x="176.35" y="130.90" font-size="30.20" fill="#1a1a1a" font-family='"Liberation Serif","Noto Serif CJK TC","Noto Serif CJK SC",serif' font-weight="400" stroke="#1a1a1a" stroke-width="0.4" textLength="56.92" lengthAdjust="spacingAndGlyphs">24.85</text>
<text x="123.94" y="458.80" font-size="30.20" fill="#1a1a1a" font-family='"Liberation Serif","Noto Serif CJK TC","Noto Serif CJK SC",serif' font-weight="400" stroke="#1a1a1a" stroke-width="0.4" textLength="46.18" lengthAdjust="spacingAndGlyphs">04/2</text>
<text x="124.16" y="485.40" font-size="30.20" fill="#1a1a1a" font-family='"Liberation Serif","Noto Serif CJK TC","Noto Serif CJK SC",serif' font-weight="400" stroke="#1a1a1a" stroke-width="0.4" textLength="56.40" lengthAdjust="spacingAndGlyphs">20.65</text>
<text x="318.43" y="115.80" font-size="29.00" fill="#2c8ea3" font-family='"Liberation Serif","Noto Serif CJK TC","Noto Serif CJK SC",serif' font-weight="400" stroke="#2c8ea3" stroke-width="0.15" textLength="129.42" lengthAdjust="spacingAndGlyphs">MA6(22.97)</text>
<text x="318.44" y="142.00" font-size="29.00" fill="#c62a5e" font-family='"Liberation Serif","Noto Serif CJK TC","Noto Serif CJK SC",serif' font-weight="400" stroke="#c62a5e" stroke-width="0.15" textLength="140.39" lengthAdjust="spacingAndGlyphs">MA13(22.62)</text>
<text x="207.14" y="716.85" font-size="29.00" fill="#c62a5e" font-family='"Liberation Serif","Noto Serif CJK TC","Noto Serif CJK SC",serif' font-weight="400" stroke="#c62a5e" stroke-width="0.15" textLength="139.42" lengthAdjust="spacingAndGlyphs">RSI13(54.42)</text>
<text x="207.14" y="742.80" font-size="29.00" fill="#2c8ea3" font-family='"Liberation Serif","Noto Serif CJK TC","Noto Serif CJK SC",serif' font-weight="400" stroke="#2c8ea3" stroke-width="0.15" textLength="127.17" lengthAdjust="spacingAndGlyphs">RSI6(55.85)</text>
<text x="124.73" y="508.65" font-size="26.31" fill="#d42a68" font-family='"Liberation Serif","Noto Serif CJK TC","Noto Serif CJK SC",serif' font-weight="500" stroke="#d42a68" stroke-width="0.15" textLength="81.35" lengthAdjust="spacingAndGlyphs">成交量</text>
<text x="204.62" y="506.10" font-size="25.38" fill="#d42a68" font-family='"Liberation Serif","Noto Serif CJK TC","Noto Serif CJK SC",serif' font-weight="400" stroke="#d42a68" stroke-width="0.2" textLength="8.27" lengthAdjust="spacingAndGlyphs">(</text>
<text x="212.77" y="508.75" font-size="26.38" fill="#d42a68" font-family='"Liberation Serif","Noto Serif CJK TC","Noto Serif CJK SC",serif' font-weight="500" stroke="#d42a68" stroke-width="0.15" textLength="27.11" lengthAdjust="spacingAndGlyphs">張</text>
<text x="240.47" y="506.10" font-size="25.38" fill="#d42a68" font-family='"Liberation Serif","Noto Serif CJK TC","Noto Serif CJK SC",serif' font-weight="400" stroke="#d42a68" stroke-width="0.2" textLength="8.27" lengthAdjust="spacingAndGlyphs">)</text>
</svg>
</body></html>
